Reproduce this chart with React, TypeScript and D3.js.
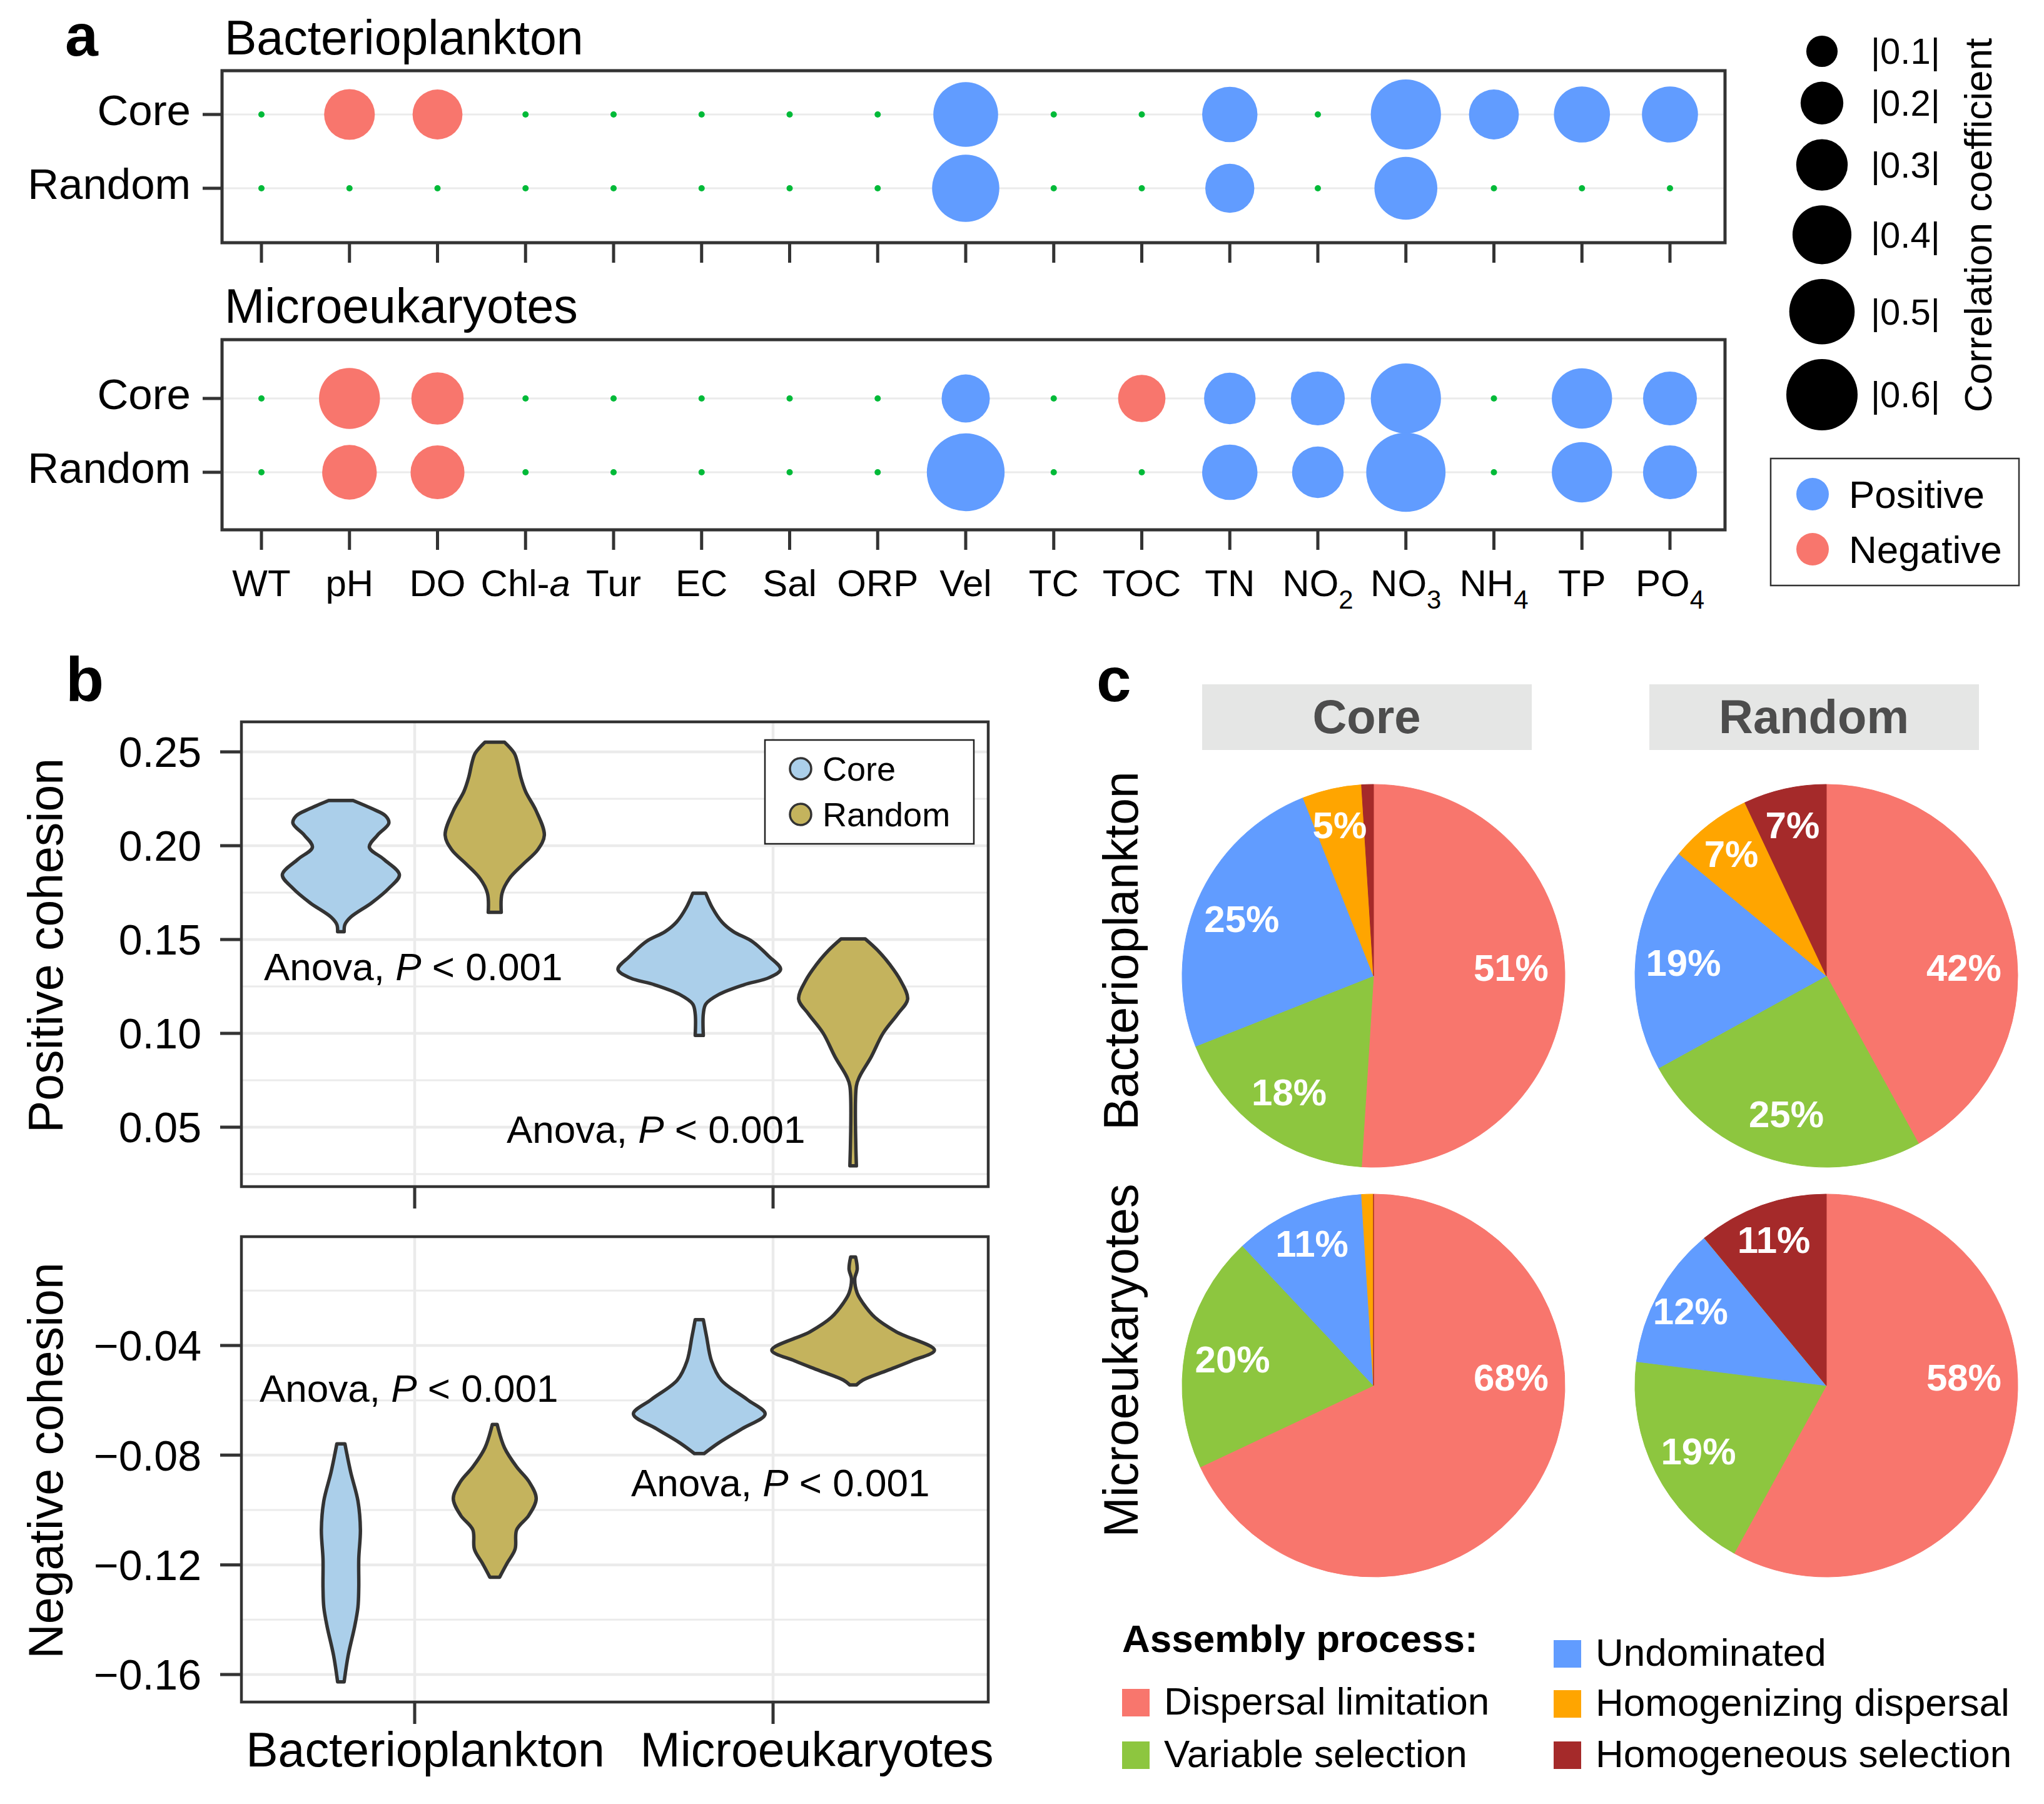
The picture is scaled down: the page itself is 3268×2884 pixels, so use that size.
import * as d3 from "d3";

const FONT = "'Liberation Sans', Arial, Helvetica, sans-serif";
const INK = "#333333";
const GRID = "#EBEBEB";

// ---------------- panel a: correlations ----------------
const envVars = ["WT", "pH", "DO", "Chl-a", "Tur", "EC", "Sal", "ORP", "Vel", "TC", "TOC", "TN", "NO2", "NO3", "NH4", "TP", "PO4"];
const groups = ["Core", "Random"];
// signed correlation coefficient, null = not significant
const bactCore = [null, -0.29, -0.28, null, null, null, null, null, 0.49, null, null, 0.35, null, 0.58, 0.28, 0.36, 0.36];
const bactRandom = [null, null, null, null, null, null, null, null, 0.53, null, null, 0.27, null, 0.46, null, null, null];
const microCore = [null, -0.43, -0.31, null, null, null, null, null, 0.26, null, -0.25, 0.3, 0.33, 0.58, null, 0.42, 0.33];
const microRandom = [null, -0.34, -0.33, null, null, null, null, null, 0.72, null, null, 0.35, 0.3, 0.75, null, 0.42, 0.33];
const sizeBreaks = [0.1, 0.2, 0.3, 0.4, 0.5, 0.6];
const signLabels = ["Positive", "Negative"];

// ---------------- panel b: cohesion violins [value, density] ----------------
const taxa = ["Bacterioplankton", "Microeukaryotes"];
const posBactCore = [[0.2241, 0.15], [0.2198, 0.38], [0.2159, 0.55], [0.212, 0.59], [0.2056, 0.45], [0.1992, 0.35], [0.1927, 0.53], [0.1845, 0.72], [0.1773, 0.59], [0.1696, 0.38], [0.1619, 0.12], [0.158, 0.05], [0.1542, 0.04]];
const posBactRandom = [[0.2552, 0.12], [0.2493, 0.24], [0.2442, 0.28], [0.2365, 0.32], [0.2288, 0.38], [0.2185, 0.51], [0.2056, 0.61], [0.1979, 0.53], [0.1902, 0.35], [0.1825, 0.18], [0.1747, 0.09], [0.1645, 0.08]];
const posMicroCore = [[0.1747, 0.08], [0.167, 0.16], [0.1593, 0.28], [0.1542, 0.42], [0.149, 0.65], [0.1413, 0.85], [0.1341, 1.0], [0.1297, 0.86], [0.1259, 0.55], [0.1207, 0.24], [0.1156, 0.08], [0.1104, 0.05], [0.0989, 0.05]];
const posMicroRandom = [[0.1503, 0.15], [0.1439, 0.31], [0.1362, 0.46], [0.1284, 0.58], [0.1182, 0.67], [0.1104, 0.55], [0.1002, 0.37], [0.0873, 0.22], [0.077, 0.08], [0.0719, 0.04], [0.0294, 0.04]];
const negBactCore = [[-0.0759, 0.05], [-0.0861, 0.12], [-0.0967, 0.21], [-0.1072, 0.24], [-0.1178, 0.22], [-0.1283, 0.22], [-0.1354, 0.21], [-0.1424, 0.17], [-0.153, 0.09], [-0.1627, 0.04]];
const negBactRandom = [[-0.0688, 0.03], [-0.0773, 0.12], [-0.0843, 0.27], [-0.0896, 0.42], [-0.0958, 0.51], [-0.1019, 0.42], [-0.1072, 0.27], [-0.1143, 0.25], [-0.1195, 0.15], [-0.1245, 0.06]];
const negMicroCore = [[-0.0306, 0.05], [-0.0368, 0.09], [-0.0456, 0.15], [-0.0526, 0.27], [-0.0597, 0.59], [-0.065, 0.81], [-0.0703, 0.53], [-0.0755, 0.24], [-0.0794, 0.06]];
const negMicroRandom = [[-0.0077, 0.03], [-0.0122, 0.05], [-0.0157, 0.02], [-0.0209, 0.05], [-0.0245, 0.12], [-0.0298, 0.27], [-0.035, 0.53], [-0.0417, 1.0], [-0.0456, 0.72], [-0.0491, 0.42], [-0.0526, 0.12], [-0.0544, 0.04]];
const posTicks = [0.05, 0.1, 0.15, 0.2, 0.25];
const posMinor = [0.025, 0.075, 0.125, 0.175, 0.225];
const negTicks = [-0.16, -0.12, -0.08, -0.04];
const negMinor = [-0.14, -0.1, -0.06, -0.02];

// ---------------- panel c: assembly processes (%) ----------------
const processes = ["Dispersal limitation", "Variable selection", "Undominated", "Homogenizing dispersal", "Homogeneous selection"];
const pieBactCore = [51, 18, 25, 5, 1];
const pieBactRandom = [42, 25, 19, 7, 7];
const pieMicroCore = [68, 20, 11, 1, 0];
const pieMicroRandom = [58, 19, 12, 0, 11];

const processColor = d3.scaleOrdinal<string, string>().domain(processes)
  .range(["#F8766D", "#8DC63F", "#619CFF", "#FFA500", "#A52A2A"]);
const groupFill = d3.scaleOrdinal<string, string>().domain(groups).range(["#ABCFEA", "#C4B35D"]);

function envLabel(name: string) {
  const m = name.match(/^([A-Z]+)(\d)$/);
  if (m) return (<>{m[1]}<tspan dy={20} fontSize={42}>{m[2]}</tspan></>);
  if (name === "Chl-a") return (<>Chl-<tspan fontStyle="italic">a</tspan></>);
  return name;
}

function AnovaText({ x, y }: { x: number; y: number }) {
  return (
    <text x={x} y={y} fontSize={62}>
      Anova, <tspan fontStyle="italic">P</tspan> {"< 0.001"}
    </text>
  );
}

function PanelA() {
  const xA = d3.scalePoint<string>().domain(envVars).range([418, 2670]);
  const rSize = d3.scaleSqrt().domain([0, 0.6]).range([3, 57]);
  const left = 355, right = 2758;
  const panels = [
    { title: "Bacterioplankton", series: [bactCore, bactRandom], top: 113, bottom: 388, rows: [183, 301], titleY: 87 },
    { title: "Microeukaryotes", series: [microCore, microRandom], top: 543, bottom: 847, rows: [637, 755], titleY: 516 },
  ];
  // size legend positions
  const legendY: number[] = [];
  sizeBreaks.forEach((b, i) => {
    if (i === 0) legendY.push(82);
    else legendY.push(legendY[i - 1] + rSize(sizeBreaks[i - 1]) + rSize(b) + 23.5);
  });
  return (
    <g>
      <text x={104} y={89} fontSize={95} fontWeight="bold">a</text>
      {panels.map((p) => {
        const yR = d3.scalePoint<string>().domain(groups).range(p.rows as [number, number]);
        return (
          <g key={p.title}>
            <text x={359} y={p.titleY} fontSize={77}>{p.title}</text>
            {groups.map((g) => (
              <line key={g} x1={left} x2={right} y1={yR(g)} y2={yR(g)} stroke={GRID} strokeWidth={3} />
            ))}
            {p.series.map((s, gi) =>
              s.map((v, i) => (
                <circle key={`${gi}-${i}`} cx={xA(envVars[i])} cy={yR(groups[gi])}
                  r={v === null ? 5 : rSize(Math.abs(v))}
                  fill={v === null ? "#00BA38" : v > 0 ? "#619CFF" : "#F8766D"} />
              ))
            )}
            <rect x={left} y={p.top} width={right - left} height={p.bottom - p.top} fill="none" stroke={INK} strokeWidth={5} />
            {groups.map((g) => (
              <g key={g}>
                <line x1={324} x2={left} y1={yR(g)} y2={yR(g)} stroke={INK} strokeWidth={5} />
                <text x={305} y={yR(g)} dy="0.25em" fontSize={69} textAnchor="end">{g}</text>
              </g>
            ))}
            {envVars.map((e) => (
              <line key={e} x1={xA(e)} x2={xA(e)} y1={p.bottom} y2={p.bottom + 32} stroke={INK} strokeWidth={5} />
            ))}
          </g>
        );
      })}
      {envVars.map((e) => (
        <text key={e} x={xA(e)} y={953} fontSize={60} textAnchor="middle">{envLabel(e)}</text>
      ))}
      {/* size legend */}
      {sizeBreaks.map((b, i) => (
        <g key={b}>
          <circle cx={2913} cy={legendY[i]} r={rSize(b)} fill="#000" />
          <text x={2991} y={legendY[i]} dy="0.35em" fontSize={58}>{`|${b.toFixed(1)}|`}</text>
        </g>
      ))}
      <text transform="translate(3184,360) rotate(-90)" fontSize={62} textAnchor="middle">Correlation coefficient</text>
      {/* sign legend */}
      <rect x={2831} y={733} width={397} height={203} fill="#fff" stroke={INK} strokeWidth={2.5} />
      {signLabels.map((s, i) => (
        <g key={s}>
          <circle cx={2898} cy={790 + i * 88} r={26} fill={s === "Positive" ? "#619CFF" : "#F8766D"} />
          <text x={2956} y={790 + i * 88} dy="0.35em" fontSize={62}>{s}</text>
        </g>
      ))}
    </g>
  );
}

function PanelB() {
  const xB = d3.scalePoint<string>().domain(taxa).range([663, 1236]);
  const dodge = d3.scalePoint<string>().domain(groups).range([-118, 128]);
  const wScale = d3.scaleLinear().domain([0, 1]).range([0, 130]);
  const left = 386, right = 1580;
  const fmt = d3.format(".2f");
  const plots = [
    {
      title: "Positive cohesion", top: 1154, bottom: 1897,
      y: d3.scaleLinear().domain([0.25, 0.05]).range([1202, 1802]),
      ticks: posTicks, minor: posMinor,
      violins: [posBactCore, posBactRandom, posMicroCore, posMicroRandom],
    },
    {
      title: "Negative cohesion", top: 1977, bottom: 2721,
      y: d3.scaleLinear().domain([-0.04, -0.16]).range([2151, 2677]),
      ticks: negTicks, minor: negMinor,
      violins: [negBactCore, negBactRandom, negMicroCore, negMicroRandom],
    },
  ];
  return (
    <g>
      <text x={105} y={1121} fontSize={100} fontWeight="bold">b</text>
      {plots.map((p) => (
        <g key={p.title}>
          {p.minor.map((t) => (
            <line key={t} x1={left} x2={right} y1={p.y(t)} y2={p.y(t)} stroke={GRID} strokeWidth={3} />
          ))}
          {p.ticks.map((t) => (
            <line key={t} x1={left} x2={right} y1={p.y(t)} y2={p.y(t)} stroke={GRID} strokeWidth={4.5} />
          ))}
          {taxa.map((t) => (
            <line key={t} x1={xB(t)} x2={xB(t)} y1={p.top} y2={p.bottom} stroke={GRID} strokeWidth={4.5} />
          ))}
          {p.violins.map((prof, i) => {
            const taxon = taxa[Math.floor(i / 2)];
            const grp = groups[i % 2];
            const cx = (xB(taxon) as number) + (dodge(grp) as number);
            const area = d3.area<number[]>()
              .y((d) => p.y(d[0]))
              .x0((d) => cx - wScale(d[1]))
              .x1((d) => cx + wScale(d[1]))
              .curve(d3.curveCatmullRom);
            return (
              <path key={i} d={area(prof) || ""} fill={groupFill(grp)} stroke={INK} strokeWidth={5.5} strokeLinejoin="round" />
            );
          })}
          <rect x={left} y={p.top} width={right - left} height={p.bottom - p.top} fill="none" stroke={INK} strokeWidth={4.5} />
          {p.ticks.map((t) => (
            <g key={t}>
              <line x1={352} x2={left} y1={p.y(t)} y2={p.y(t)} stroke={INK} strokeWidth={5} />
              <text x={322} y={p.y(t)} dy="0.36em" fontSize={68} textAnchor="end">{fmt(t)}</text>
            </g>
          ))}
          {taxa.map((t) => (
            <line key={t} x1={xB(t)} x2={xB(t)} y1={p.bottom} y2={p.bottom + 35} stroke={INK} strokeWidth={5} />
          ))}
          <text transform={`translate(100,${(p.top + p.bottom) / 2 - 14}) rotate(-90)`} fontSize={77} textAnchor="middle">{p.title}</text>
        </g>
      ))}
      <text x={(xB("Bacterioplankton") as number) + 17} y={2824} fontSize={77} textAnchor="middle">Bacterioplankton</text>
      <text x={(xB("Microeukaryotes") as number) + 70} y={2824} fontSize={77} textAnchor="middle">Microeukaryotes</text>
      <AnovaText x={422} y={1567} />
      <AnovaText x={810} y={1827} />
      <AnovaText x={415} y={2241} />
      <AnovaText x={1009} y={2392} />
      {/* legend */}
      <rect x={1223} y={1183} width={334} height={166} fill="#fff" stroke="#222" strokeWidth={2.5} />
      {groups.map((g, i) => (
        <g key={g}>
          <circle cx={1280} cy={1229 + i * 73} r={17} fill={groupFill(g)} stroke={INK} strokeWidth={3.5} />
          <text x={1315} y={1229 + i * 73} dy="0.36em" fontSize={54}>{g}</text>
        </g>
      ))}
    </g>
  );
}

function PanelC() {
  const R = 306;
  const pieX = d3.scalePoint<string>().domain(groups).range([2196, 2920]);
  const pieY = d3.scalePoint<string>().domain(taxa).range([1560, 2215]);
  const pies = [
    { taxon: "Bacterioplankton", group: "Core", values: pieBactCore },
    { taxon: "Bacterioplankton", group: "Random", values: pieBactRandom },
    { taxon: "Microeukaryotes", group: "Core", values: pieMicroCore },
    { taxon: "Microeukaryotes", group: "Random", values: pieMicroRandom },
  ];
  const pie = d3.pie<number>().sort(null).value((d) => d);
  const arc = d3.arc<d3.PieArcDatum<number>>().innerRadius(0).outerRadius(R);
  const stripX = d3.scalePoint<string>().domain(groups).range([1922, 2637]);
  const legendCols = [
    { x: 1794, items: ["Dispersal limitation", "Variable selection"], rows: [2700, 2784] },
    { x: 2484, items: ["Undominated", "Homogenizing dispersal", "Homogeneous selection"], rows: [2622, 2702, 2784] },
  ];
  return (
    <g>
      <text x={1753} y={1121} fontSize={100} fontWeight="bold">c</text>
      {groups.map((g) => (
        <g key={g}>
          <rect x={stripX(g)} y={1094} width={527} height={105} fill="#E5E6E5" />
          <text x={(stripX(g) as number) + 263} y={1172} fontSize={76} fontWeight="bold" fill="#4D4D4D" textAnchor="middle">{g}</text>
        </g>
      ))}
      {taxa.map((t) => (
        <text key={t} transform={`translate(1819,${(pieY(t) as number) - 40}) rotate(-90)`} fontSize={77} textAnchor="middle">{t}</text>
      ))}
      {pies.map((p) => {
        const arcs = pie(p.values);
        return (
          <g key={p.taxon + p.group} transform={`translate(${pieX(p.group)},${pieY(p.taxon)})`}>
            {arcs.map((a, i) => (
              <path key={i} d={arc(a) || ""} fill={processColor(processes[i])} stroke={processColor(processes[i])} strokeWidth={1} />
            ))}
            {arcs.map((a, i) => {
              if (a.data < 5) return null;
              let ang: number, rr: number;
              if (i === 0) {
                ang = Math.PI / 2 - 0.06;
                rr = 0.72 * R;
              } else {
                ang = (a.startAngle + a.endAngle) / 2;
                rr = (a.data >= 15 ? 0.75 : 0.81) * R;
              }
              return (
                <text key={`l${i}`} x={Math.sin(ang) * rr} y={-Math.cos(ang) * rr} dy="0.36em"
                  fontSize={60} fontWeight="bold" fill="#fff" textAnchor="middle">{`${a.data}%`}</text>
              );
            })}
          </g>
        );
      })}
      <text x={1794} y={2641} fontSize={62} fontWeight="bold">Assembly process:</text>
      {legendCols.map((c) =>
        c.items.map((it, i) => (
          <g key={it}>
            <rect x={c.x} y={c.rows[i]} width={44} height={44} fill={processColor(it)} />
            <text x={c.x + 67} y={c.rows[i] + 41} fontSize={62}>{it}</text>
          </g>
        ))
      )}
    </g>
  );
}

export default function App() {
  return (
    <svg width={3268} height={2884} viewBox="0 0 3268 2884" fontFamily={FONT}
      style={{ position: "absolute", left: 0, top: 0, display: "block" }}>
      <rect width={3268} height={2884} fill="#fff" />
      <PanelA />
      <PanelB />
      <PanelC />
    </svg>
  );
}
